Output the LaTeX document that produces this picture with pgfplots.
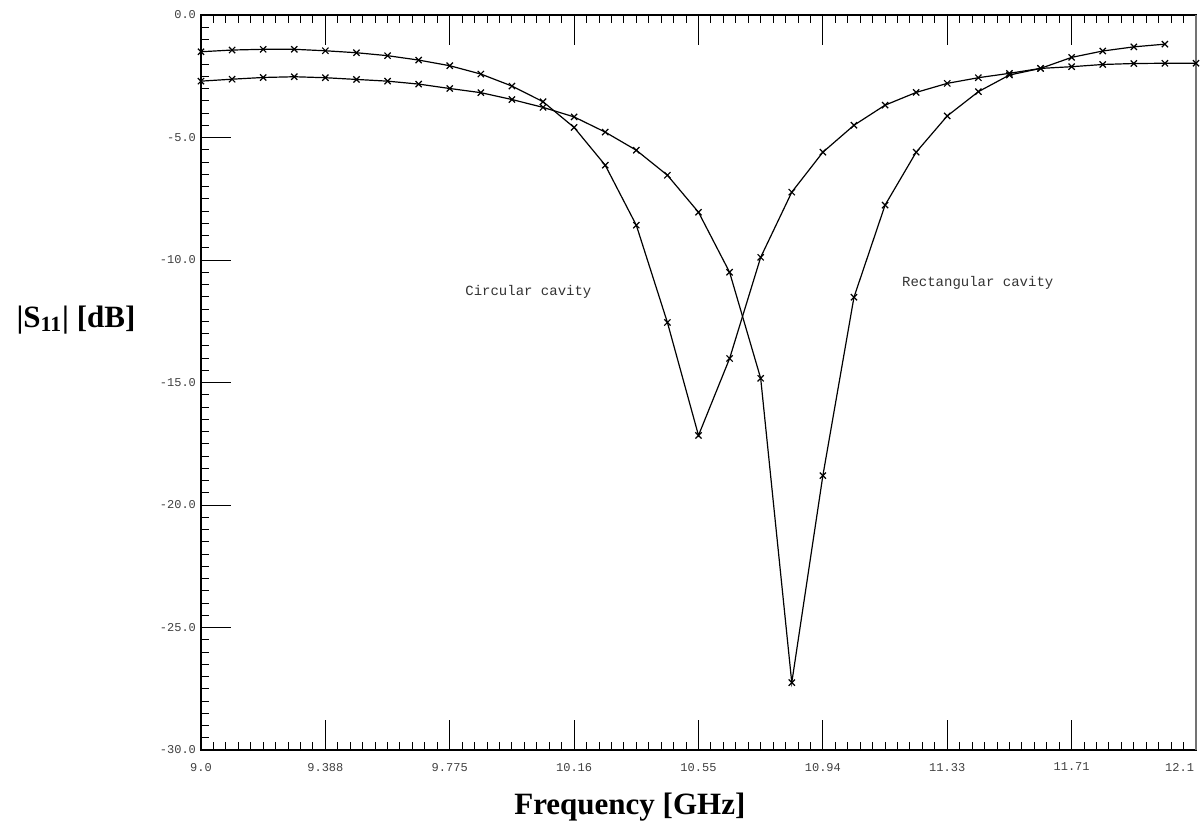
\documentclass[border=0pt]{standalone}
\usepackage{fontspec}
\setmainfont{Liberation Serif}
\newfontfamily\plotterfont{Liberation Mono}
\usepackage{pgfplots}
\usepackage{pgfplotstable}
\pgfplotsset{compat=1.18}

% Measured return loss, circular cavity
\pgfplotstableread{
f s11
9.0       -1.50
9.096875  -1.43
9.19375   -1.40
9.290625  -1.40
9.3875    -1.46
9.484375  -1.54
9.58125   -1.66
9.678125  -1.84
9.775     -2.07
9.871875  -2.41
9.96875   -2.90
10.065625 -3.54
10.1625   -4.59
10.259375 -6.13
10.35625  -8.58
10.453125 -12.55
10.55     -17.16
10.646875 -14.02
10.74375  -9.89
10.840625 -7.23
10.9375   -5.60
11.034375 -4.50
11.13125  -3.68
11.228125 -3.16
11.325    -2.79
11.421875 -2.56
11.51875  -2.38
11.615625 -2.18
11.7125   -2.11
11.809375 -2.02
11.90625  -1.98
12.003125 -1.97
12.1      -1.97
}\circtable

% Measured return loss, rectangular cavity
\pgfplotstableread{
f s11
9.0       -2.70
9.096875  -2.62
9.19375   -2.55
9.290625  -2.52
9.3875    -2.56
9.484375  -2.63
9.58125   -2.70
9.678125  -2.82
9.775     -3.00
9.871875  -3.17
9.96875   -3.45
10.065625 -3.77
10.1625   -4.16
10.259375 -4.78
10.35625  -5.52
10.453125 -6.54
10.55     -8.05
10.646875 -10.50
10.74375  -14.83
10.840625 -27.25
10.9375   -18.80
11.034375 -11.52
11.13125  -7.76
11.228125 -5.60
11.325    -4.12
11.421875 -3.13
11.51875  -2.45
11.615625 -2.18
11.7125   -1.73
11.809375 -1.47
11.90625  -1.30
12.003125 -1.19
}\recttable

\begin{document}
\begin{tikzpicture}
\useasboundingbox (-100.5pt,-40.5pt) rectangle (501.5pt,375pt);
\begin{axis}[
  at={(0,0)}, anchor=south west,
  scale only axis, width=497.5pt, height=367.5pt,
  xmin=9, xmax=12.1, ymin=-30, ymax=0,
  xtick={9,9.3875,9.775,10.1625,10.55,10.9375,11.325,11.7125,12.1},
  xticklabels={9.0,9.388,9.775,10.16,10.55,10.94,11.33,11.71,\makebox[0pt][r]{12.1\hspace{1pt}}\hspace{8pt}},
  ytick={-30,-25,-20,-15,-10,-5,0},
  yticklabels={-30.0,-25.0,-20.0,-15.0,-10.0,-5.0,0.0},
  minor x tick num=9, minor y tick num=9,
  tick align=inside,
  major tick length=15pt, minor tick length=4pt,
  xtick pos=both, ytick pos=left,
  axis line style={line width=1.2pt, black},
  every tick/.style={black, line width=0.5pt},
  tick label style={font=\plotterfont\fontsize{6}{7}\selectfont, text=black!75},
  xticklabel style={yshift=-3pt},
  yticklabel style={xshift=1pt},
  xlabel={\bfseries Frequency [GHz]},
  ylabel={\bfseries |S\textsubscript{11}| [dB]},
  every axis x label/.style={at={(axis description cs:0.431,0)}, yshift=-28.5pt, anchor=center, font=\fontsize{15.5}{18}\selectfont},
  every axis y label/.style={at={(axis description cs:0,0.585)}, xshift=-62.5pt, anchor=center, font=\fontsize{15.5}{18}\selectfont},
  clip=false,
]
\addplot[black, line width=0.6pt, mark=x, mark size=2.2pt, mark options={line width=0.6pt}] table[x=f, y=s11] {\circtable};
\addplot[black, line width=0.6pt, mark=x, mark size=2.2pt, mark options={line width=0.6pt}] table[x=f, y=s11] {\recttable};
\node[font=\plotterfont\fontsize{7}{8}\selectfont, text=black!80] at (axis cs:10.02,-11.32) {Circular cavity};
\node[font=\plotterfont\fontsize{7}{8}\selectfont, text=black!80] at (axis cs:11.42,-10.95) {Rectangular cavity};
% right edge of the frame is lighter
\draw[black!55, line width=1.2pt] (rel axis cs:1,0) -- (rel axis cs:1,1);
\end{axis}
\end{tikzpicture}
\end{document}
